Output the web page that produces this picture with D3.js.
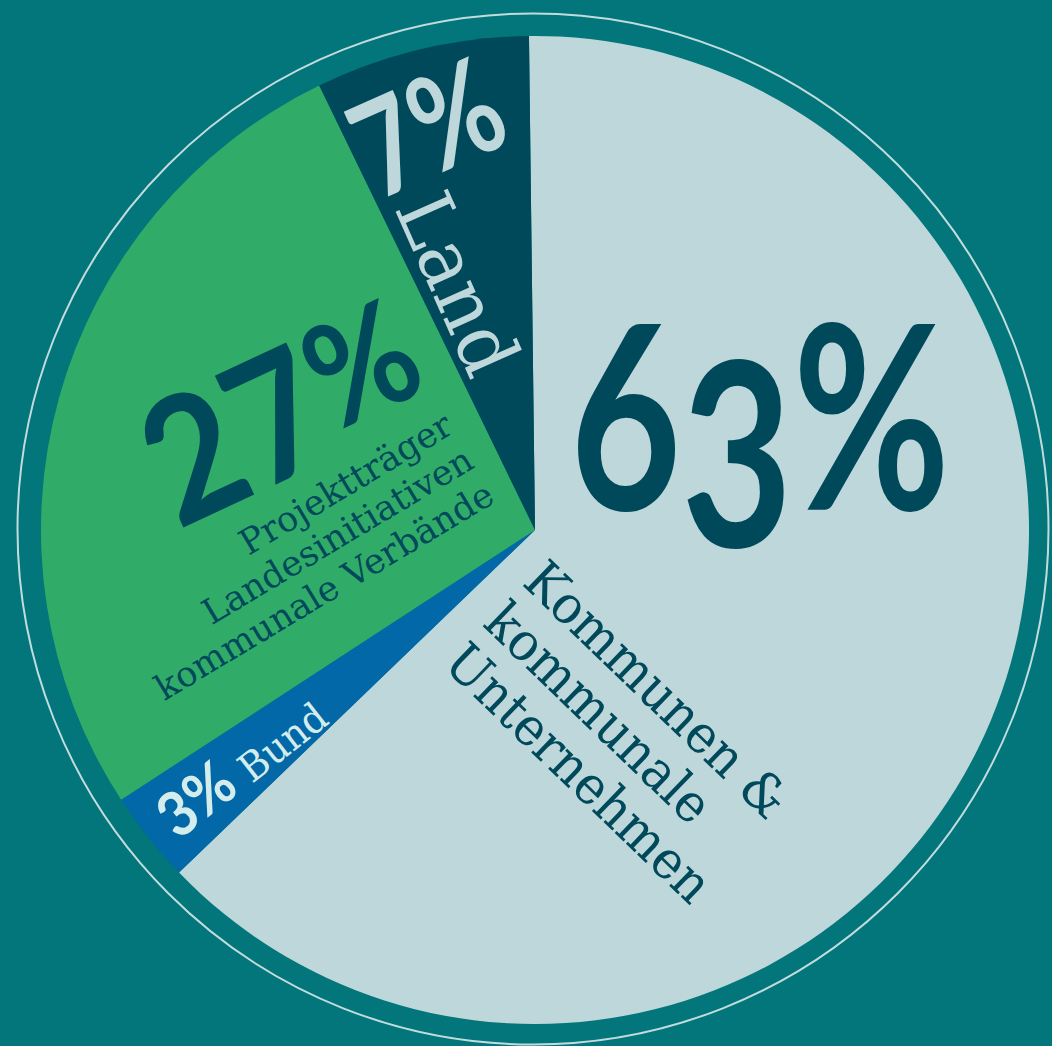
<!DOCTYPE html>
<html><head><meta charset="utf-8">
<script src="https://cdn.jsdelivr.net/npm/d3@7"></script>
<style>html,body{margin:0;padding:0;background:#02767A;} svg{display:block;}</style>
</head><body>
<svg id="chart" width="1052" height="1046"></svg>
<script>
// ---- data ----
const categories = ["Kommunen & kommunale Unternehmen", "Bund", "Projektträger Landesinitiativen kommunale Verbände", "Land"];
const values = [63, 3, 27, 7];
const percentLabels = ["63%", "3%", "27%", "7%"];
const categoryLines = [
  ["Kommunen &", "kommunale", "Unternehmen"],
  ["Bund"],
  ["Projektträger", "Landesinitiativen", "kommunale Verbände"],
  ["Land"]
];

// ---- style / layout ----
const W = 1052, H = 1046;
const cx = 535, cy = 530, R = 494;
const sliceColors = ["#BDD7DB", "#0268A8", "#30AC68", "#00495B"];
const navy = "#00495B", light = "#BDD7DB", lighter = "#D3ECEC";
const pctFont = "Lato, 'Open Sans', sans-serif";
const serifFont = "'DejaVu Serif', serif";

const svg = d3.select("#chart");
svg.append("rect").attr("width", W).attr("height", H).attr("fill", "#02767A");
svg.append("circle").attr("cx", 533).attr("cy", 529).attr("r", 515.5)
  .attr("fill", "none").attr("stroke", "#C2DCDD").attr("stroke-width", 2);

const offset = -0.7 * Math.PI / 180;
const pie = d3.pie().sort(null).value(d => d).startAngle(offset).endAngle(2 * Math.PI + offset);
const arc = d3.arc().innerRadius(0).outerRadius(R);
const g = svg.append("g").attr("transform", `translate(${cx},${cy})`);
g.selectAll("path").data(pie(values)).join("path")
  .attr("d", arc).attr("fill", (d, i) => sliceColors[i]);

// text block helper: lines drawn in a rotated frame, scaled horizontally to target width
function block(o) {
  const grp = svg.append("g").attr("transform", `translate(${o.x},${o.y}) rotate(${o.rot})`);
  const texts = o.lines.map((line, i) => grp.append("text")
    .attr("font-family", o.font).attr("font-size", o.size).attr("font-weight", o.weight || 400)
    .attr("fill", o.fill).attr("text-anchor", o.anchor || "start").text(line));
  let maxW = 0;
  texts.forEach(t => { const w = t.node().getComputedTextLength(); if (w > maxW) maxW = w; });
  const sx = o.target / maxW;
  texts.forEach((t, i) => t.attr("transform", `translate(0,${i * (o.gap || 0)}) scale(${sx},1)`));
}

// percentage helper with tspans
function pct(o) {
  const grp = svg.append("g").attr("transform", `translate(${o.x},${o.y}) rotate(${o.rot})`);
  const t = grp.append("text").attr("font-family", pctFont).attr("font-weight", 700)
    .attr("font-size", o.size).attr("fill", o.fill);
  o.parts.forEach(p => {
    const ts = t.append("tspan").text(p.t);
    if (p.dy) ts.attr("dy", p.dy);
    if (p.size) ts.attr("font-size", p.size);
  });
  const w = t.node().getComputedTextLength();
  t.attr("transform", `scale(${o.target / w},1)`);
}

const p63 = percentLabels[0], p3 = percentLabels[1], p27 = percentLabels[2], p7 = percentLabels[3];

// 63%
pct({x: 570, y: 510, rot: 0, size: 256, fill: navy, target: 380,
  parts: [{t: p63[0]}, {t: p63[1], dy: 37}, {t: p63.slice(2), dy: -37}]});
// 27%
pct({x: 178, y: 530, rot: -25, size: 172, fill: navy, target: 290,
  parts: [{t: p27.slice(0, 2)}, {t: "%", size: 143, dy: -22}]});
// 7%
pct({x: 378, y: 201, rot: -24, size: 132, fill: light, target: 150,
  parts: [{t: p7}]});
// 3%
pct({x: 178, y: 841, rot: -38, size: 62, fill: lighter, target: 80,
  parts: [{t: p3}]});

// category labels
block({x: 521, y: 584, rot: 44, lines: categoryLines[0], font: serifFont, size: 53, fill: navy, gap: 57, target: 346});
block({x: 252, y: 784, rot: -38, lines: categoryLines[1], font: serifFont, size: 40, fill: lighter, target: 100});
block({x: 455, y: 432, rot: -31, lines: categoryLines[2], font: serifFont, size: 35, fill: navy, gap: 40.5, target: 388, anchor: "end"});
block({x: 394, y: 208, rot: 66, lines: categoryLines[3], font: serifFont, size: 78, fill: light, target: 190});
</script>
</body></html>
